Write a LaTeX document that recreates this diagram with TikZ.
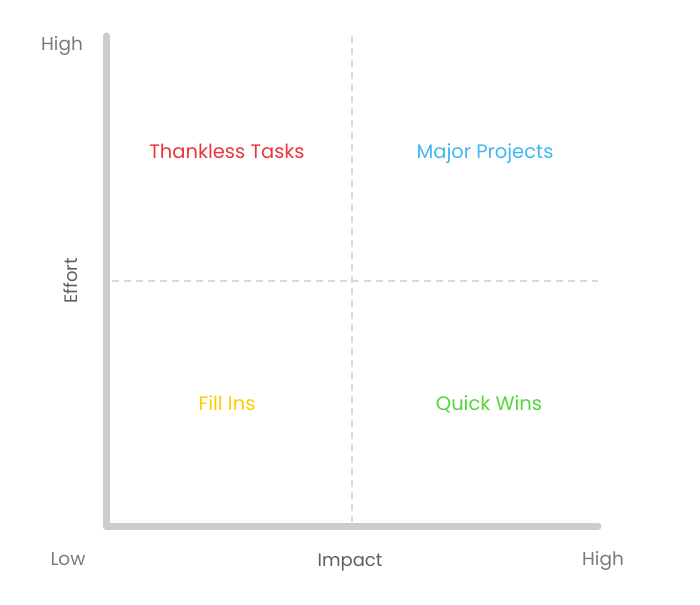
\documentclass[tikz,border=0pt]{standalone}
\usepackage{fontspec}
\setmainfont{Poppins}
\begin{document}
\begin{tikzpicture}[x=1pt,y=-1pt,
  axis/.style={draw=axisgray,line width=7pt,line cap=round,line join=round},
  divider/.style={draw=dashgray,line width=1.5pt,dash pattern=on 7pt off 5pt},
  axlabel/.style={anchor=base,text=lightgray,font=\fontsize{18.5}{20}\selectfont},
  axtitle/.style={anchor=base,text=labelgray,font=\fontsize{18}{20}\selectfont},
  quad/.style={anchor=base,font=\fontsize{19.5}{22}\selectfont}]
\definecolor{axisgray}{HTML}{CCCCCC}
\definecolor{dashgray}{HTML}{D9D9D9}
\definecolor{labelgray}{HTML}{5E5E5E}
\definecolor{lightgray}{HTML}{7A7A7A}
\definecolor{qred}{HTML}{E8373E}
\definecolor{qblue}{HTML}{40B9F0}
\definecolor{qyellow}{HTML}{FFCC00}
\definecolor{qgreen}{HTML}{55D43A}
\useasboundingbox (0,0) rectangle (700,604);
\coordinate (top) at (106,36);
\coordinate (origin) at (106,526);
\coordinate (right) at (598,526);
\coordinate (vdtop) at (352,36);
\coordinate (vdbot) at (352,522);
\coordinate (hdl) at (112,281);
\coordinate (hdr) at (598,281);
\draw[divider] (vdtop) -- (vdbot);
\draw[divider] (hdl) -- (hdr);
\draw[axis] (top) -- (origin) -- (right);
\node[axlabel] (hy) at (62,50.5) {High};
\node[axlabel] (lo) at (68,565) {Low};
\node[axlabel] (hx) at (603,565) {High};
\node[axtitle] (imp) at (350,566) {Impact};
\node[axtitle,rotate=90] (eff) at (77,281) {Effort};
\node[quad,text=qred] (tt) at (227,158.5) {Thankless Tasks};
\node[quad,text=qblue] (mp) at (485,158.5) {Major Projects};
\node[quad,text=qyellow] (fi) at (227,410) {Fill Ins};
\node[quad,text=qgreen] (qw) at (489,410) {Quick Wins};
\end{tikzpicture}
\end{document}
